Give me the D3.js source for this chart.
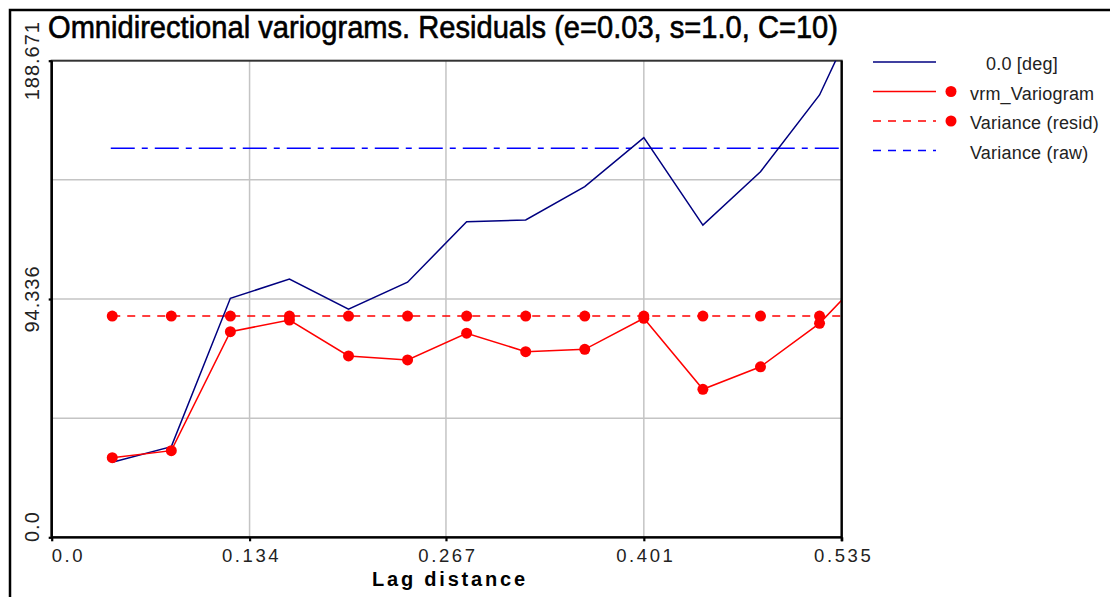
<!DOCTYPE html>
<html>
<head>
<meta charset="utf-8">
<script src="https://cdn.jsdelivr.net/npm/d3@7/dist/d3.min.js"></script>
<style>
  html, body { margin: 0; padding: 0; background: #fff; }
  svg { display: block; }
</style>
</head>
<body>
<script>
// Lag distances of the experimental variogram bins (last bin lies past the axis end)
const lags = [0.041, 0.081, 0.121, 0.161, 0.201, 0.241, 0.281, 0.321, 0.361, 0.401, 0.441, 0.480, 0.520, 0.560];
// Omnidirectional variogram of the raw data, 0.0 deg
const rawVariogram = [29.7, 35.9, 94.6, 102.2, 90.3, 101.0, 124.9, 125.6, 138.8, 158.2, 123.6, 144.7, 175.1, 225.0];
// Variogram of the residuals
const residVariogram = [31.5, 34.3, 81.4, 86.0, 71.8, 70.2, 80.8, 73.5, 74.4, 86.7, 58.6, 67.5, 84.7, 109.2];
// Sill references
const varianceResid = 87.6;
const varianceRaw = 154.0;

const xTicks = [0.0, 0.134, 0.267, 0.401, 0.535];
const xTickLabels = ["0.0", "0.134", "0.267", "0.401", "0.535"];
const yTicks = [0.0, 94.336, 188.671];
const yTickLabels = ["0.0", "94.336", "188.671"];
const xGrid = [0.134, 0.267, 0.401];
const yGrid = [47.168, 94.336, 141.5];

const titleText = "Omnidirectional variograms. Residuals (e=0.03, s=1.0, C=10)";
const xTitle = "Lag distance";
const legendItems = [
  { label: "0.0 [deg]", color: "#000080", dash: null, marker: false, indent: 16 },
  { label: "vrm_Variogram", color: "#ff0000", dash: null, marker: true, indent: 0 },
  { label: "Variance (resid)", color: "#ff0000", dash: "8,7", marker: true, indent: 0 },
  { label: "Variance (raw)", color: "#0000ff", dash: "8,7", marker: false, indent: 0 }
];

const W = 1112, H = 597;
const pLeft = 51.7, pRight = 841.7, pTop = 60.7, pBottom = 537.3;

const svg = d3.select("body").append("svg").attr("width", W).attr("height", H);

// Outer window frame
svg.append("path")
  .attr("d", `M10,${H} V10 H1110`)
  .attr("fill", "none").attr("stroke", "#000").attr("stroke-width", 2.5);

const x = d3.scaleLinear().domain([0, 0.535]).range([pLeft, pRight]);
const y = d3.scaleLinear().domain([0, 188.671]).range([pBottom, pTop]);

// Title
svg.append("text")
  .attr("x", 48).attr("y", 38)
  .attr("font-family", "'Liberation Sans Narrow', 'Arial Narrow', 'Liberation Sans', sans-serif")
  .attr("font-size", 30.5)
  .attr("textLength", 790).attr("lengthAdjust", "spacingAndGlyphs")
  .attr("fill", "#000").attr("stroke", "#000").attr("stroke-width", 0.6)
  .text(titleText);

// Grid
const grid = svg.append("g").attr("stroke", "#c4c4c4").attr("stroke-width", 1.5);
grid.selectAll("line.gx").data(xGrid).join("line")
  .attr("x1", d => x(d)).attr("x2", d => x(d)).attr("y1", pTop).attr("y2", pBottom);
grid.selectAll("line.gy").data(yGrid).join("line")
  .attr("x1", pLeft).attr("x2", pRight).attr("y1", d => y(d)).attr("y2", d => y(d));

// Plot frame
svg.append("rect")
  .attr("x", pLeft).attr("y", pTop).attr("width", pRight - pLeft).attr("height", pBottom - pTop)
  .attr("fill", "none").attr("stroke", "#333").attr("stroke-width", 2);

// Series, clipped to the plot area
svg.append("clipPath").attr("id", "plotClip")
  .append("rect").attr("x", pLeft).attr("y", pTop).attr("width", pRight - pLeft).attr("height", pBottom - pTop);
const plot = svg.append("g").attr("clip-path", "url(#plotClip)");

const line = d3.line().x(d => x(d[0])).y(d => y(d[1]));

// Raw variance sill (dash-dot)
plot.append("path")
  .attr("d", line([[lags[0] - 0.001, varianceRaw], [lags[lags.length - 1], varianceRaw]]))
  .attr("fill", "none").attr("stroke", "#0000ff").attr("stroke-width", 1.5)
  .attr("stroke-dasharray", "24,7,6,7");

// Residual variance sill (dashed with markers)
plot.append("path")
  .attr("d", line([[lags[0], varianceResid], [lags[lags.length - 1], varianceResid]]))
  .attr("fill", "none").attr("stroke", "#ff0000").attr("stroke-width", 1.5)
  .attr("stroke-dasharray", "8,7");

// Raw variogram
plot.append("path")
  .attr("d", line(lags.map((l, i) => [l, rawVariogram[i]])))
  .attr("fill", "none").attr("stroke", "#000080").attr("stroke-width", 1.5);

// Residual variogram
plot.append("path")
  .attr("d", line(lags.map((l, i) => [l, residVariogram[i]])))
  .attr("fill", "none").attr("stroke", "#ff0000").attr("stroke-width", 1.5);

plot.selectAll("circle.sill").data(lags).join("circle")
  .attr("cx", d => x(d)).attr("cy", y(varianceResid)).attr("r", 5.5).attr("fill", "#ff0000");
plot.selectAll("circle.vrm").data(lags).join("circle")
  .attr("cx", d => x(d)).attr("cy", (d, i) => y(residVariogram[i])).attr("r", 5.5).attr("fill", "#ff0000");

// Axes
const xAxis = d3.axisBottom(x).tickValues(xTicks).tickSize(4).tickFormat("");
const gx = svg.append("g").attr("transform", `translate(0,${pBottom})`).call(xAxis);
gx.select(".domain").attr("stroke", "#000").attr("stroke-width", 2.2).attr("d", `M${pLeft},0H${pRight}`);
gx.selectAll(".tick line").attr("stroke", "#000").attr("stroke-width", 2.2);

const yAxis = d3.axisLeft(y).tickValues(yTicks).tickSize(3).tickFormat("");
const gy = svg.append("g").attr("transform", `translate(${pLeft},0)`).call(yAxis);
gy.select(".domain").attr("stroke", "#000").attr("stroke-width", 2.5).attr("d", `M0,${pTop}V${pBottom}`);
gy.selectAll(".tick line").attr("stroke", "#000").attr("stroke-width", 2.2);

svg.append("line").attr("x1", pRight).attr("x2", pRight).attr("y1", pTop).attr("y2", pBottom + 4)
  .attr("stroke", "#000").attr("stroke-width", 2.2);

// Tick labels
const tickFont = "'Liberation Sans', Arial, sans-serif";
const xl = svg.append("g");
xTicks.forEach((t, i) => {
  const txt = xl.append("text")
    .attr("y", 562).attr("font-family", tickFont).attr("font-size", 18.5)
    .attr("letter-spacing", 2.6).attr("fill", "#222").text(xTickLabels[i]);
  const w = txt.node().getComputedTextLength();
  let x0 = x(t) - w / 2 + 2;
  if (x0 < pLeft) x0 = pLeft;
  txt.attr("x", x0);
});

const yl = svg.append("g");
yTicks.forEach((t, i) => {
  const txt = yl.append("text")
    .attr("font-family", tickFont).attr("font-size", 20)
    .attr("letter-spacing", 1).attr("fill", "#222").text(yTickLabels[i]);
  const w = txt.node().getComputedTextLength();
  // rotated text reads bottom-to-top; start position is the lower end
  let yStart = y(t) + w / 2;
  if (yStart > 542) yStart = 542;
  txt.attr("transform", `translate(38.5,${yStart}) rotate(-90)`);
});

// Axis title
svg.append("text")
  .attr("x", 372).attr("y", 586)
  .attr("font-family", tickFont).attr("font-size", 20).attr("font-weight", "bold")
  .attr("textLength", 153).attr("lengthAdjust", "spacing")
  .attr("fill", "#000").text(xTitle);

// Legend
const lg = svg.append("g");
legendItems.forEach((it, i) => {
  const ly = 62 + i * 29.5;
  lg.append("line")
    .attr("x1", 873).attr("x2", 936).attr("y1", ly).attr("y2", ly)
    .attr("stroke", it.color).attr("stroke-width", 1.5)
    .attr("stroke-dasharray", it.dash);
  if (it.marker) {
    lg.append("circle").attr("cx", 951).attr("cy", ly).attr("r", 5.5).attr("fill", "#ff0000");
  }
  lg.append("text")
    .attr("x", 970 + it.indent).attr("y", ly + 8)
    .attr("font-family", tickFont).attr("font-size", 18).attr("letter-spacing", 0.2)
    .attr("fill", "#222").text(it.label);
});
</script>
</body>
</html>
